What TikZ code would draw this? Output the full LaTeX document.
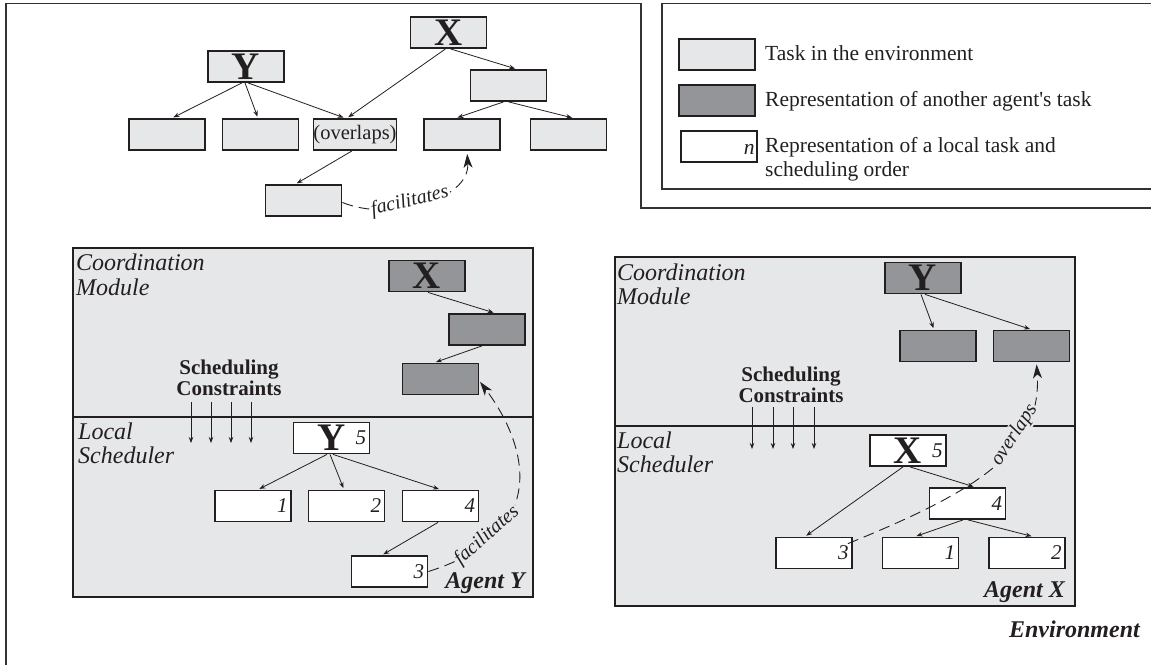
\documentclass[tikz,border=0pt]{standalone}
\usepackage{fontspec}
\setmainfont{Liberation Serif}
\usetikzlibrary{arrows.meta,calc}
\definecolor{lightfill}{HTML}{E6E7E8}
\definecolor{darkfill}{HTML}{939598}
\definecolor{ink}{HTML}{231F20}
\definecolor{frameline}{HTML}{333333}
\newcommand{\fBig}{\fontsize{39}{39}\selectfont\bfseries}
\newcommand{\fNum}{\fontsize{21}{21}\selectfont\itshape}
\newcommand{\fLeg}{\fontsize{21.5}{24}\selectfont}
\newcommand{\fMod}{\fontsize{24}{24}\selectfont\itshape}
\newcommand{\fSC}{\fontsize{21}{21}\selectfont\bfseries}
\newcommand{\fAgent}{\fontsize{24}{24}\selectfont\bfseries\itshape}
\newcommand{\fRel}{\fontsize{20}{20}\selectfont\itshape}
\newcommand{\fOv}{\fontsize{20.5}{20.5}\selectfont}
\begin{document}
\begin{tikzpicture}[x=1pt,y=-1pt,
  box/.style={draw=ink, line width=1.8pt, minimum width=76pt, minimum height=31pt, inner sep=0pt, text=ink},
  envbox/.style={box, fill=lightfill},
  otherbox/.style={box, fill=darkfill},
  localbox/.style={box, fill=white},
  num/.style={label={[anchor=east, xshift=-4pt, font=\fNum, inner sep=0pt, text=ink]east:#1}},
  arr/.style={draw=ink, line width=0.8pt, -{Stealth[length=6pt,width=4.5pt]}, shorten >=1.5pt},
  relarr/.style={draw=ink, line width=0.9pt, dash pattern=on 11pt off 6pt, -{Stealth[length=14pt,width=9pt,inset=4pt]}},
  reltext/.style={font=\fRel, sloped, anchor=base, inner sep=1.5pt, text=ink},
  panel/.style={draw=ink, line width=1.4pt, fill=lightfill},
  txt/.style={inner sep=0pt, text=ink}
]
\useasboundingbox (0,0) rectangle (1151,664);

% environment frame and legend frame
\draw[frameline, line width=1.6pt] (6,668) -- (6,3.5) -- (641,3.5) -- (641,208) -- (1155,208);
\draw[frameline, line width=1.4pt] (1155,3.5) -- (662,3.5) -- (662,189) -- (1155,189);

% legend
\node[envbox] (lgA) at (717,54.5) {};
\node[otherbox] (lgB) at (717,100.5) {};
\node[localbox, label={[anchor=east, xshift=-3pt, yshift=-3pt, font=\fLeg\itshape, inner sep=0pt, text=ink]east:n}] (lgC) at (719,146.5) {};
\node[txt, anchor=base west, font=\fLeg] (lgAt) at (765,60) {Task in the environment};
\node[txt, anchor=base west, font=\fLeg] (lgBt) at (765,106) {Representation of another agent\textquotesingle s task};
\node[txt, anchor=base west, font=\fLeg] (lgCt1) at (765,152) {Representation of a local task and};
\node[txt, anchor=base west, font=\fLeg] (lgCt2) at (765,176) {scheduling order};

% top task tree
\node[envbox, font=\fBig] (tX) at (448.5,32.5) {X};
\node[envbox, font=\fBig] (tY) at (246,66.5) {Y};
\node[envbox] (tR) at (508.5,85.5) {};
\node[envbox] (t1) at (167,134.5) {};
\node[envbox] (t2) at (260.5,134.5) {};
\node[envbox, font=\fOv] (t3) at (355,134.5) {(overlaps)};
\node[envbox] (t4) at (462,134.5) {};
\node[envbox] (t5) at (568.5,134.5) {};
\node[envbox] (tB) at (303.5,200.5) {};

\draw[arr] ([xshift=-4pt]tY.south) -- ([xshift=5pt]t1.north);
\draw[arr] ([xshift=-1pt]tY.south) -- ([xshift=-2.5pt]t2.north);
\draw[arr] ([xshift=2pt]tY.south) -- ([xshift=-10pt]t3.north);
\draw[arr] ([xshift=-3pt]tX.south) -- ([xshift=-8pt]t3.north);
\draw[arr] ([xshift=2pt]tX.south) -- ([xshift=8pt]tR.north);
\draw[arr] ([xshift=-5pt]tR.south) -- ([xshift=-6pt]t4.north);
\draw[arr] (tR.south) -- ([xshift=5pt]t5.north);
\draw[arr] ([xshift=-3pt]t3.south) -- ([xshift=-8pt]tB.north);
\draw[relarr, shorten >=3pt] ([yshift=-2pt]tB.east) .. controls (390,222) and (470,200) .. ([xshift=5pt]t4.south)
  node[reltext, pos=0.42, fill=white] (facA) {facilitates};

% ---------------- Agent Y ----------------
\draw[panel] (73,248) rectangle (533,597);
\draw[ink, line width=1.4pt] (73,417) -- (533,417);
\node[txt, anchor=base west, font=\fMod] (lcm1) at (76,270) {Coordination};
\node[txt, anchor=base west, font=\fMod] (lcm2) at (76,295) {Module};
\node[txt, anchor=base west, font=\fMod] (lls1) at (78,439) {Local};
\node[txt, anchor=base west, font=\fMod] (lls2) at (78,463) {Scheduler};
\node[txt, align=center, font=\fSC] (lsc) at (229,378) {Scheduling\\Constraints};
\node[txt, anchor=base east, font=\fAgent] (lag) at (525,588) {Agent Y};

\node[otherbox, font=\fBig] (lX) at (427,276) {X};
\node[otherbox] (lD2) at (487,329.5) {};
\node[otherbox] (lD3) at (440.5,379) {};
\node[localbox, font=\fBig, num=5] (lY5) at (331.5,438) {Y};
\node[localbox, num=1] (l1) at (253,506) {};
\node[localbox, num=2] (l2) at (346.5,506) {};
\node[localbox, num=4] (l4) at (440.5,506) {};
\node[localbox, num=3] (l3) at (389.5,571.5) {};

\foreach \i/\x in {1/191,2/211,3/231,4/251}{
  \coordinate (lsa\i) at (\x,402);
  \coordinate (lse\i) at (\x,443);
  \draw[arr, shorten >=0pt] (lsa\i) -- (lse\i);
}
\draw[arr] ([xshift=1pt]lX.south) -- ([xshift=8pt]lD2.north);
\draw[arr] ([xshift=-5pt]lD2.south) -- ([xshift=-6pt]lD3.north);
\draw[arr] ([xshift=-4.5pt]lY5.south) -- ([xshift=5pt]l1.north);
\draw[arr] ([xshift=-1.5pt]lY5.south) -- ([xshift=-2.5pt]l2.north);
\draw[arr] ([xshift=1.5pt]lY5.south) -- (l4.north);
\draw[arr] ([xshift=-2.5pt]l4.south) -- ([xshift=-7.5pt]l3.north);
\draw[relarr, shorten >=1pt] (l3.east) .. controls (560,530) and (521,436) .. ([yshift=-2pt]lD3.east)
  node[reltext, pos=0.21, fill=lightfill] (facB) {facilitates};

% ---------------- Agent X ----------------
\draw[panel] (615,257) rectangle (1075,606);
\draw[ink, line width=1.4pt] (615,426) -- (1075,426);
\node[txt, anchor=base west, font=\fMod] (rcm1) at (617,280) {Coordination};
\node[txt, anchor=base west, font=\fMod] (rcm2) at (617,304) {Module};
\node[txt, anchor=base west, font=\fMod] (rls1) at (617,448) {Local};
\node[txt, anchor=base west, font=\fMod] (rls2) at (617,472) {Scheduler};
\node[txt, align=center, font=\fSC] (rsc) at (791,385) {Scheduling\\Constraints};
\node[txt, anchor=base east, font=\fAgent] (rag) at (1065,597) {Agent X};

\node[otherbox, font=\fBig] (rY) at (923,278) {Y};
\node[otherbox] (rD1) at (938,346) {};
\node[otherbox] (rD2) at (1031.5,346) {};
\node[localbox, font=\fBig, num=5] (rX5) at (908,450.5) {X};
\node[localbox, num=4] (r4) at (967.5,503.5) {};
\node[localbox, num=3] (r3) at (814,553) {};
\node[localbox, num=1] (r1) at (920.5,553) {};
\node[localbox, num=2] (r2) at (1027,553) {};

\foreach \i/\x in {1/752,2/773,3/793,4/814}{
  \coordinate (rsa\i) at (\x,407);
  \coordinate (rse\i) at (\x,449);
  \draw[arr, shorten >=0pt] (rsa\i) -- (rse\i);
}
\draw[arr] ([xshift=-2pt]rY.south) -- ([xshift=-4pt]rD1.north);
\draw[arr] ([xshift=2pt]rY.south) -- (rD2.north);
\draw[arr] ([xshift=-5pt]rX5.south) -- ([xshift=-9pt]r3.north);
\draw[arr] ([xshift=2pt]rX5.south) -- ([xshift=7.5pt]r4.north);
\draw[arr] ([xshift=-4.5pt]r4.south) -- ([xshift=-5.5pt]r1.north);
\draw[arr] ([xshift=0.5pt]r4.south) -- ([xshift=6pt]r2.north);
\draw[relarr, shorten >=2pt] ([xshift=-5pt,yshift=-7pt]r3.north east) .. controls (980,490) and (1042,450) .. ([xshift=5pt]rD2.south)
  node[reltext, pos=0.66, fill=lightfill] (ovl) {overlaps};

\node[txt, anchor=base east, font=\fAgent] (env) at (1140,637) {Environment};
\end{tikzpicture}
\end{document}
